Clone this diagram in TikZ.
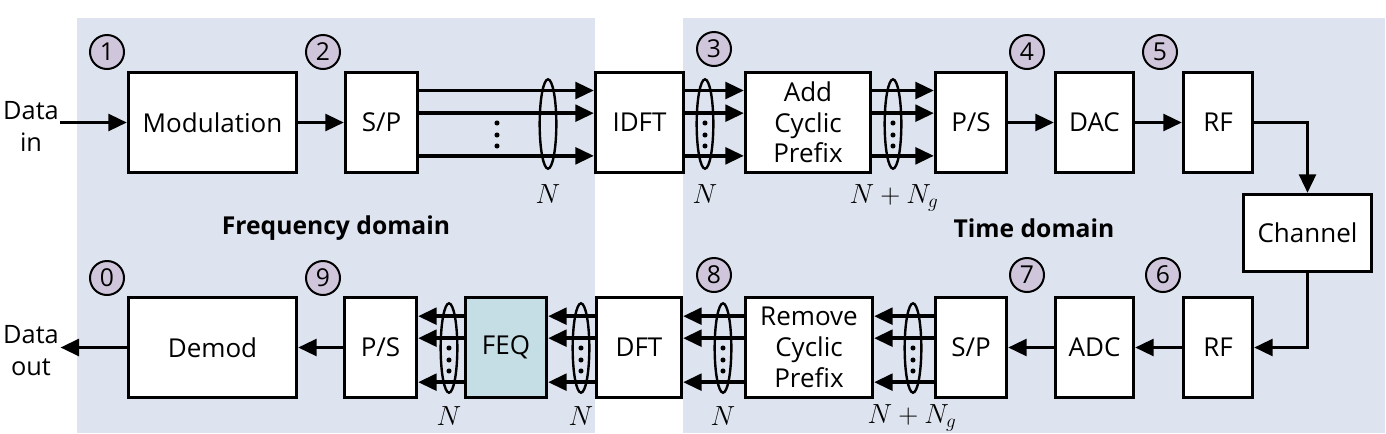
\documentclass[tikz,border=0pt]{standalone}
\usepackage{fontspec}
\setmainfont{Open Sans}
\usetikzlibrary{arrows.meta,shapes.geometric}
\definecolor{bgc}{RGB}{222,228,239}
\definecolor{numfill}{RGB}{208,198,220}
\definecolor{feqfill}{RGB}{197,222,229}
\begin{document}
\begin{tikzpicture}[x=0.75pt,y=-0.75pt,
  blk/.style={draw, line width=2.6pt, fill=white, minimum height=74.75pt, inner sep=0pt, align=center, font=\fontsize{19.5}{23}\selectfont},
  arr/.style={line width=2.8pt, -{Triangle[length=14pt,width=12.5pt]}},
  ell/.style={ellipse, draw, line width=1.8pt, minimum width=12.5pt, minimum height=67pt, inner sep=0pt},
  numc/.style={circle, draw, line width=1.5pt, fill=numfill, minimum size=25.5pt, inner sep=0pt, font=\fontsize{18.5}{18.5}\selectfont},
  lab/.style={font=\fontsize{18.5}{22}\selectfont\bfseries},
  nlab/.style={anchor=base, inner sep=0pt, font=\fontsize{21}{24}\selectfont},
  io/.style={align=center, font=\fontsize{19}{24}\selectfont, inner sep=1pt}
]
\useasboundingbox (0,0) rectangle (1386,433);
\fill[bgc] (77,18) rectangle (595,433);
\fill[bgc] (683,18) rectangle (1385,433);

% top row
\node[blk, minimum width=125.75pt] (mod) at (212.5,122.5) {Modulation};
\node[blk, minimum width=53.75pt] (spT) at (381.5,122.5) {S/P};
\node[blk, minimum width=65.75pt] (idft) at (639.5,122.5) {IDFT};
\node[blk, minimum width=93.5pt] (acp) at (808,122.5) {Add\\Cyclic\\Prefix};
\node[blk, minimum width=53pt] (psT) at (971,122.5) {P/S};
\node[blk, minimum width=58.25pt] (dac) at (1094.5,122.5) {DAC};
\node[blk, minimum width=51.5pt] (rfT) at (1218,122.5) {RF};
\node[blk, minimum width=95.75pt, minimum height=57.5pt] (chan) at (1307.5,233) {Channel};

% bottom row
\node[blk, minimum width=125.75pt] (demod) at (212.5,347.5) {Demod};
\node[blk, minimum width=53.75pt] (psB) at (380.5,347.5) {P/S};
\node[blk, minimum width=60.5pt, fill=feqfill] (feq) at (506,347.5) {FEQ};
\node[blk, minimum width=63.5pt] (dft) at (639,347.5) {DFT};
\node[blk, minimum width=95pt] (rcp) at (809,347.5) {Remove\\Cyclic\\Prefix};
\node[blk, minimum width=53pt] (spB) at (971,347.5) {S/P};
\node[blk, minimum width=58.25pt] (adc) at (1094.5,347.5) {ADC};
\node[blk, minimum width=51.5pt] (rfB) at (1218,347.5) {RF};

% data in/out
\node[io] (din) at (31,126) {Data\\in};
\node[io] (dout) at (31,351) {Data\\out};
\draw[arr] (din.east |- mod.west) -- (mod.west);
\draw[arr] (demod.west) -- (dout.east |- demod.west);

% single arrows
\draw[arr] (mod) -- (spT);
\draw[arr] (psT) -- (dac);
\draw[arr] (dac) -- (rfT);
\draw[arr] (rfT.east) -| (chan.north);
\draw[arr] (chan.south) |- (rfB.east);
\draw[arr] (rfB) -- (adc);
\draw[arr] (adc) -- (spB);
\draw[arr] (psB) -- (demod);

% parallel arrows top
\foreach \s/\t in {spT/idft, idft/acp, acp/psT}{
  \draw[arr] ([yshift=24pt]\s.east) -- ([yshift=24pt]\t.west);
  \draw[arr] ([yshift=7pt]\s.east) -- ([yshift=7pt]\t.west);
  \draw[arr] ([yshift=-25pt]\s.east) -- ([yshift=-25pt]\t.west);
}
% parallel arrows bottom
\foreach \s/\t in {spB/rcp, rcp/dft, dft/feq, feq/psB}{
  \draw[arr] ([yshift=23.5pt]\s.west) -- ([yshift=23.5pt]\t.east);
  \draw[arr] ([yshift=7pt]\s.west) -- ([yshift=7pt]\t.east);
  \draw[arr] ([yshift=-26pt]\s.west) -- ([yshift=-26pt]\t.east);
}

% ellipses
\node[ell] (e1) at (548,124) {};
\node[ell] (e2) at (705,124) {};
\node[ell] (e3) at (893,124) {};
\node[ell] (e4) at (449,348) {};
\node[ell] (e5) at (581,348) {};
\node[ell] (e6) at (723,348) {};
\node[ell] (e7) at (913,348) {};

% dots
\foreach \x in {497,705,893}{
  \foreach \y in {123,135,146} \fill (\x,\y) circle[radius=1.9pt];
}
\foreach \x in {449,581,723,913}{
  \foreach \y in {348,360,371} \fill (\x,\y) circle[radius=1.9pt];
}

% N labels
\node[nlab] (n1) at (548,203) {$N$};
\node[nlab] (n2) at (705,203) {$N$};
\node[nlab] (n3) at (894,203) {$N+N_g$};
\node[nlab] (n4) at (449,425) {$N$};
\node[nlab] (n5) at (581,425) {$N$};
\node[nlab] (n6) at (723,425) {$N$};
\node[nlab] (n7) at (912,423) {$N+N_g$};

% domain labels
\node[lab] (fd) at (336,228) {Frequency domain};
\node[lab] (td) at (1034,228) {Time domain};

% numbered circles
\node[numc] (c1) at (107,52) {1};
\node[numc] (c2) at (323,52) {2};
\node[numc] (c3) at (714,49) {3};
\node[numc] (c4) at (1027,52) {4};
\node[numc] (c5) at (1160,52) {5};
\node[numc] (c0) at (107,278) {0};
\node[numc] (c9) at (323,278) {9};
\node[numc] (c8) at (714,275) {8};
\node[numc] (c7) at (1027,275) {7};
\node[numc] (c6) at (1163,275) {6};
\end{tikzpicture}
\end{document}
